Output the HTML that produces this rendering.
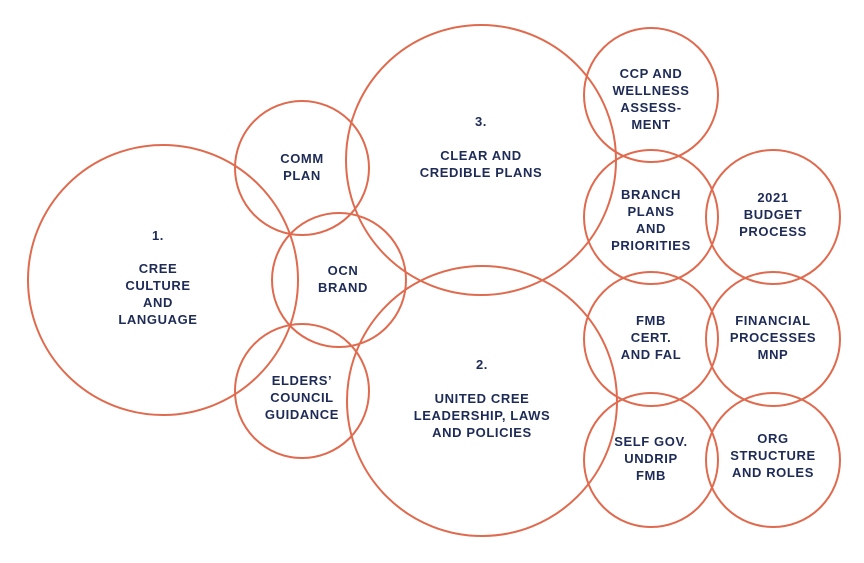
<!DOCTYPE html>
<html><head><style>
body{margin:0;background:#fff}
svg text{font-family:"Liberation Sans",sans-serif;font-weight:bold;font-size:13px;fill:#1e2b57;text-anchor:middle;letter-spacing:0.6px}
</style></head><body>
<svg width="864" height="558" viewBox="0 0 864 558" xmlns="http://www.w3.org/2000/svg">
<g fill="none" stroke="#e06a4e" stroke-width="2">
<circle cx="163" cy="280" r="135"/>
<circle cx="481" cy="160" r="135"/>
<circle cx="482" cy="401" r="135"/>
<circle cx="302" cy="168" r="67"/>
<circle cx="339" cy="280" r="67"/>
<circle cx="302" cy="391" r="67"/>
<circle cx="651" cy="95" r="67"/>
<circle cx="651" cy="217" r="67"/>
<circle cx="773" cy="217" r="67"/>
<circle cx="651" cy="339" r="67"/>
<circle cx="773" cy="339" r="67"/>
<circle cx="651" cy="460" r="67"/>
<circle cx="773" cy="460" r="67"/>
</g>
<text x="158" y="240">1.</text>
<text x="158" y="273">CREE</text>
<text x="158" y="290">CULTURE</text>
<text x="158" y="307">AND</text>
<text x="158" y="324">LANGUAGE</text>
<text x="481" y="126">3.</text>
<text x="481" y="160">CLEAR AND</text>
<text x="481" y="177">CREDIBLE PLANS</text>
<text x="482" y="369">2.</text>
<text x="482" y="403">UNITED CREE</text>
<text x="482" y="420">LEADERSHIP, LAWS</text>
<text x="482" y="437">AND POLICIES</text>
<text x="302" y="163">COMM</text>
<text x="302" y="180">PLAN</text>
<text x="343" y="275">OCN</text>
<text x="343" y="292">BRAND</text>
<text x="302" y="385">ELDERS’</text>
<text x="302" y="402">COUNCIL</text>
<text x="302" y="419">GUIDANCE</text>
<text x="651" y="78">CCP AND</text>
<text x="651" y="95">WELLNESS</text>
<text x="651" y="112">ASSESS-</text>
<text x="651" y="129">MENT</text>
<text x="651" y="199">BRANCH</text>
<text x="651" y="216">PLANS</text>
<text x="651" y="233">AND</text>
<text x="651" y="250">PRIORITIES</text>
<text x="773" y="202">2021</text>
<text x="773" y="219">BUDGET</text>
<text x="773" y="236">PROCESS</text>
<text x="651" y="325">FMB</text>
<text x="651" y="342">CERT.</text>
<text x="651" y="359">AND FAL</text>
<text x="773" y="325">FINANCIAL</text>
<text x="773" y="342">PROCESSES</text>
<text x="773" y="359">MNP</text>
<text x="651" y="446">SELF GOV.</text>
<text x="651" y="463">UNDRIP</text>
<text x="651" y="480">FMB</text>
<text x="773" y="443">ORG</text>
<text x="773" y="460">STRUCTURE</text>
<text x="773" y="477">AND ROLES</text>
</svg>
</body></html>
